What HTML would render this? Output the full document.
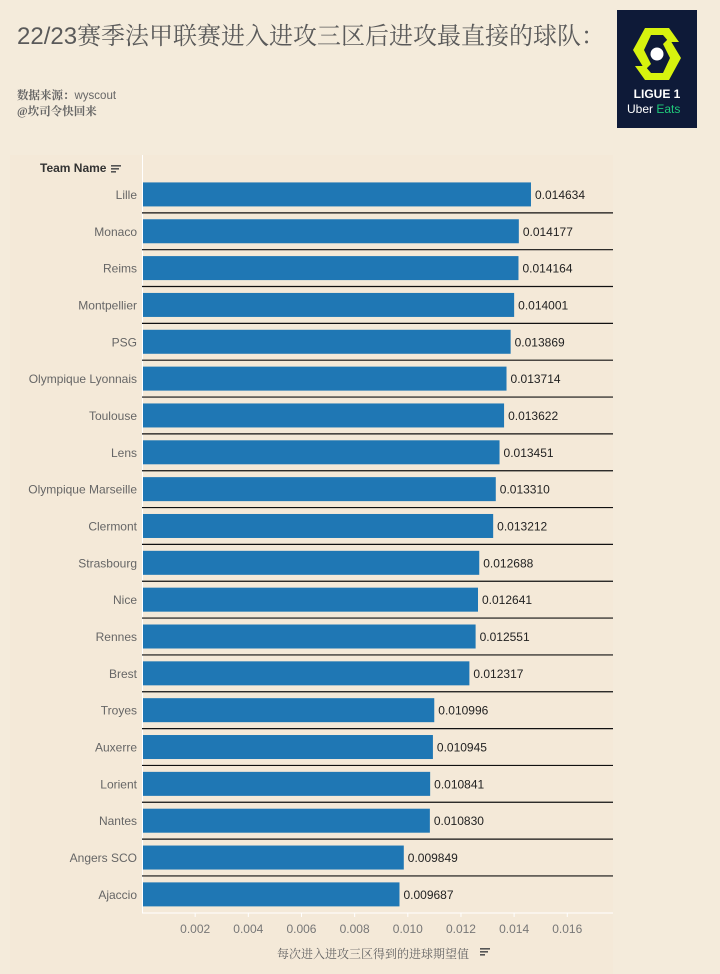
<!DOCTYPE html>
<html><head><meta charset="utf-8">
<style>
body{margin:0;width:720px;height:974px;background:#f4ebdb;overflow:hidden;font-family:"Liberation Sans","Noto Sans CJK SC",sans-serif}
.title{position:absolute;left:17px;top:16px;font-size:24px;color:#5a5a5a;font-family:"Liberation Sans","Noto Serif CJK SC",serif;white-space:nowrap}
.src{position:absolute;left:17px;top:88px;font-size:11.5px;color:#666;line-height:16px;font-weight:bold;font-family:"Liberation Serif","Noto Serif CJK SC",serif}
.logo{position:absolute;left:617px;top:10px;width:80px;height:118px;background:#0e1a38}
</style></head><body>
<div class="title">22/23<span style="font-family:'Noto Serif CJK SC',serif">赛季法甲联赛进入进攻三区后进攻最直接的球队：</span></div>
<div class="src">数据来源：<span style="font-weight:normal;font-family:'Liberation Sans',sans-serif">wyscout</span><br>@坎司令快回来</div>
<div class="logo">
<svg width="80" height="118" viewBox="0 0 80 118">
<path d="M28 18 L52 18 L62 32 L52 32 L46 25 L34 25 L27 40 L34 54 L28 60 L16 40 Z" fill="#d7f20e"/>
<path d="M52 70 L28 70 L18 56 L28 56 L34 63 L46 63 L53 48 L46 34 L52 28 L64 48 Z" fill="#d7f20e"/>
<circle cx="40" cy="44" r="6.5" fill="#fff"/>
<text x="40" y="88" fill="#fff" font-size="12" font-weight="bold" text-anchor="middle" font-family="Liberation Sans">LIGUE 1</text>
<text x="10" y="103" fill="#fff" font-size="12" font-family="Liberation Sans">Uber <tspan fill="#1fc97a">Eats</tspan></text>
</svg></div>
<svg id="chart" width="720" height="974" style="position:absolute;left:0;top:0"></svg>
<script>
const teams=["Lille","Monaco","Reims","Montpellier","PSG","Olympique Lyonnais","Toulouse","Lens","Olympique Marseille","Clermont","Strasbourg","Nice","Rennes","Brest","Troyes","Auxerre","Lorient","Nantes","Angers SCO","Ajaccio"];
const values=[0.014634,0.014177,0.014164,0.014001,0.013869,0.013714,0.013622,0.013451,0.013310,0.013212,0.012688,0.012641,0.012551,0.012317,0.010996,0.010945,0.010841,0.010830,0.009849,0.009687];
const ticks=[0.002,0.004,0.006,0.008,0.010,0.012,0.014,0.016];
const NS="http://www.w3.org/2000/svg";
const svg=document.getElementById('chart');
const x0=142,pxPer=26580,rowTop=176,rowH=36.84,barH=24;
const X=v=>x0+v*pxPer;
const Y=i=>rowTop+i*rowH;
function mk(t,a,p){const e=document.createElementNS(NS,t);for(const k in a)e.setAttribute(k,a[k]);(p||svg).appendChild(e);return e;}
const bg=mk('rect',{x:10,y:155,width:603,height:819,fill:'#f4e9d8'});


const hd=mk('text',{x:40,y:172,'font-size':12,fill:'#333','font-weight':'bold'});hd.textContent='Team Name';


[[0,2,10],[0,5,8],[0,8,5]].forEach(r=>mk('rect',{x:111,y:163+r[1],width:r[2],height:1.6,fill:'#555'}));
mk('line',{x1:142.5,y1:155,x2:142.5,y2:913,stroke:'#fff','stroke-width':1});
teams.forEach((t,i)=>{
 const cy=Y(i)+rowH/2;
 const b=mk('rect',{x:x0+1,y:cy-barH/2,width:X(values[i])-x0-1,height:barH,fill:'#1f77b4'});
 
 
 const l=mk('text',{x:137,y:cy+4.5,'font-size':12,fill:'#666','text-anchor':'end'});l.textContent=t;
 
 
 const v=mk('text',{x:X(values[i])+4,y:cy+4.5,'font-size':12,fill:'#222'});v.textContent=values[i].toFixed(6);
 
 
 if(i<teams.length-1)mk('line',{x1:142,y1:Y(i+1),x2:613,y2:Y(i+1),stroke:'#111','stroke-width':1.2});
});
mk('line',{x1:142,y1:913,x2:613,y2:913,stroke:'#fff','stroke-width':1});
ticks.forEach(t=>{
 mk('line',{x1:X(t),y1:913,x2:X(t),y2:917,stroke:'#fff'});
 const tl=mk('text',{x:X(t),y:933,'font-size':12,fill:'#777','text-anchor':'middle'});tl.textContent=t.toFixed(3);
 
 
});
const at=mk('text',{x:373,y:958,'font-size':12,fill:'#666','text-anchor':'middle','font-family':'Liberation Serif, Noto Serif CJK SC, serif'});at.textContent='每次进入进攻三区得到的进球期望值';


[[2,10],[5,8],[8,5]].forEach(r=>mk('rect',{x:480,y:946+r[0],width:r[1],height:1.6,fill:'#555'}));
</script>
</body></html>
